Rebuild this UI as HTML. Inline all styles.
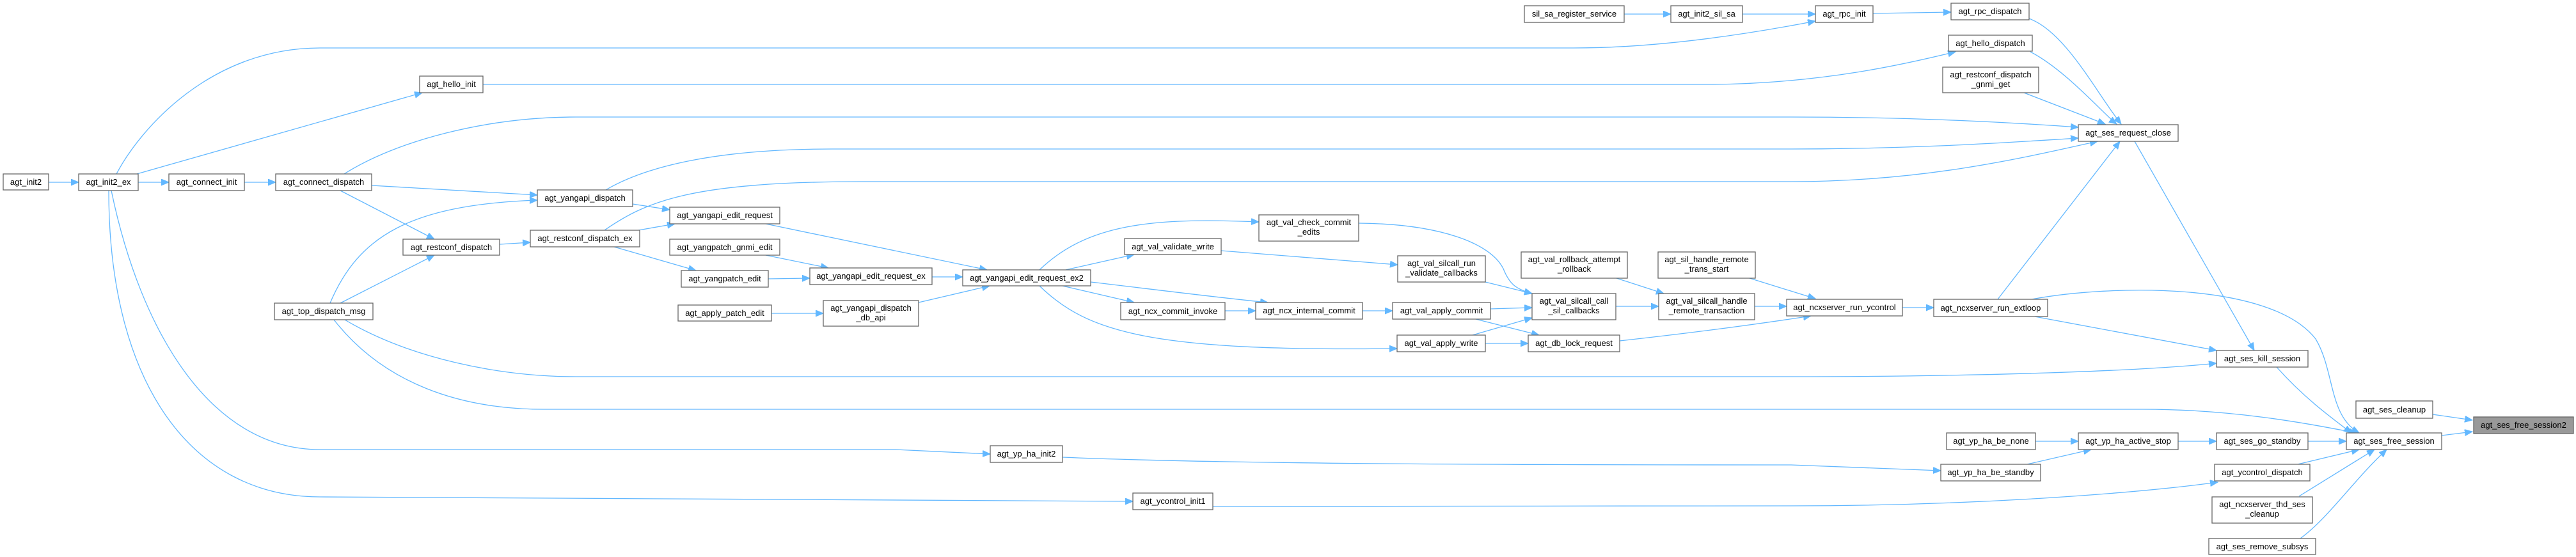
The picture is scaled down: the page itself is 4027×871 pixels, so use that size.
<!DOCTYPE html>
<html><head><meta charset="utf-8"><style>
html,body{margin:0;padding:0;background:#fff;}
svg{display:block;}
text{font-family:"Liberation Sans",Arial,sans-serif;font-size:13px;fill:#000;text-anchor:middle;}
.n{fill:#fff;stroke:#666;stroke-width:1.3;}
.h{fill:#999;stroke:#666;stroke-width:1.3;}
.e{fill:none;stroke:#63b8ff;stroke-width:1.3;}
</style></head><body>
<svg width="4027" height="871" viewBox="0 0 4027 871" xmlns="http://www.w3.org/2000/svg">
<defs><marker id="a" markerUnits="userSpaceOnUse" markerWidth="14" markerHeight="12" refX="12" refY="5" orient="auto"><path d="M0,0 L12,5 L0,10 Z" fill="#63b8ff" stroke="#63b8ff"/></marker></defs>
<g marker-end="url(#a)">
<path class="e" d="M76,285 L123,285"/>
<path class="e" d="M216,285 L264,285"/>
<path class="e" d="M382,285 L431,285"/>
<path class="e" d="M214,272 L660,145"/>
<path class="e" d="M182,272 C220,200 330,75 500,75 L2460,75 C2600,75 2750,50 2838,33"/>
<path class="e" d="M755,132 L2680,132 C2850,130 2980,100 3057,81"/>
<path class="e" d="M538,272 C620,220 760,183 900,183 L2800,183 C3000,183 3150,192 3249,199"/>
<path class="e" d="M947,297 C1010,260 1120,233 1300,233 L2800,233 C3000,233 3150,222 3249,216"/>
<path class="e" d="M945,360 C1010,315 1080,284 1350,284 L2800,284 C3000,284 3150,250 3279,221"/>
<path class="e" d="M581,290 L840,305"/>
<path class="e" d="M532,298 L679,374"/>
<path class="e" d="M516,474 C560,370 640,320 840,313"/>
<path class="e" d="M532,474 L679,399"/>
<path class="e" d="M781,382 L829,379"/>
<path class="e" d="M989,319 L1047,328"/>
<path class="e" d="M998,360 L1055,350"/>
<path class="e" d="M960,386 L1088,423"/>
<path class="e" d="M1201,436 L1266,435"/>
<path class="e" d="M1197,399 L1295,419"/>
<path class="e" d="M1206,490 L1287,490"/>
<path class="e" d="M1197,350 L1543,422"/>
<path class="e" d="M1457,433 L1505,433"/>
<path class="e" d="M1436,473 L1547,447"/>
<path class="e" d="M539,500 C640,560 780,589 900,589 L2800,589 C3100,589 3350,580 3465,568"/>
<path class="e" d="M522,500 C600,600 720,640 850,640 L3350,640 C3500,640 3620,665 3684,677"/>
<path class="e" d="M174,298 C220,520 330,703 500,703 L1400,703 L1548,710"/>
<path class="e" d="M170,298 C170,600 300,777 500,777 L1771,784"/>
<path class="e" d="M1661,715 C1900,725 2300,727 2800,727 L3034,736"/>
<path class="e" d="M1896,792 C2100,792 2500,791 2800,791 C3100,791 3350,770 3467,754"/>
<path class="e" d="M1625,422 C1700,350 1800,340 1968,347"/>
<path class="e" d="M1666,422 L1773,398"/>
<path class="e" d="M1661,447 L1773,473"/>
<path class="e" d="M1705,441 C1800,452 1900,465 1982,473"/>
<path class="e" d="M1625,447 C1700,520 1800,550 2184,545"/>
<path class="e" d="M1915,486 L1963,486"/>
<path class="e" d="M2130,486 L2177,486"/>
<path class="e" d="M2330,483 L2395,481"/>
<path class="e" d="M2307,499 L2406,524"/>
<path class="e" d="M2302,524 L2395,497"/>
<path class="e" d="M2322,537 L2389,537"/>
<path class="e" d="M1909,392 L2185,414"/>
<path class="e" d="M2322,441 L2395,459"/>
<path class="e" d="M2124,349 C2250,350 2330,380 2350,420 C2360,445 2370,452 2395,459"/>
<path class="e" d="M2526,479 L2593,479"/>
<path class="e" d="M2527,435 L2601,459"/>
<path class="e" d="M2735,435 L2838,467"/>
<path class="e" d="M2743,479 L2793,479"/>
<path class="e" d="M2532,533 C2650,520 2760,505 2831,494"/>
<path class="e" d="M2974,481 L3023,481"/>
<path class="e" d="M3123,468 L3314,221"/>
<path class="e" d="M3337,221 L3524,548"/>
<path class="e" d="M3181,495 L3465,548"/>
<path class="e" d="M3176,468 C3300,445 3550,440 3620,530 C3650,580 3640,650 3688,677"/>
<path class="e" d="M3559,574 C3600,620 3640,650 3676,677"/>
<path class="e" d="M3803,648 L3865,657"/>
<path class="e" d="M3817,681 L3865,675"/>
<path class="e" d="M3608,690 L3668,690"/>
<path class="e" d="M3405,690 L3465,690"/>
<path class="e" d="M3182,690 L3249,690"/>
<path class="e" d="M3169,726 L3269,703"/>
<path class="e" d="M3592,726 L3688,703"/>
<path class="e" d="M3594,776 L3712,703"/>
<path class="e" d="M3596,842 C3640,810 3680,750 3731,703"/>
<path class="e" d="M2928,21 L3050,19"/>
<path class="e" d="M3172,29 C3230,50 3280,150 3316,194"/>
<path class="e" d="M3174,81 C3230,110 3290,180 3309,194"/>
<path class="e" d="M3164,145 L3291,194"/>
<path class="e" d="M2539,22 L2612,22"/>
<path class="e" d="M2724,22 L2838,22"/>
</g>
<g>
<rect class="n" x="5" y="272" width="71" height="25"/><text x="40.5" y="289">agt_init2</text>
<rect class="n" x="123" y="272" width="93" height="26"/><text x="169.5" y="289">agt_init2_ex</text>
<rect class="n" x="264" y="272" width="118" height="26"/><text x="323" y="289">agt_connect_init</text>
<rect class="n" x="431" y="272" width="150" height="26"/><text x="506" y="289">agt_connect_dispatch</text>
<rect class="n" x="656" y="119" width="99" height="26"/><text x="705.5" y="136">agt_hello_init</text>
<rect class="n" x="840" y="297" width="149" height="26"/><text x="914.5" y="314">agt_yangapi_dispatch</text>
<rect class="n" x="1047" y="324" width="172" height="26"/><text x="1133" y="341">agt_yangapi_edit_request</text>
<rect class="n" x="829" y="360" width="171" height="26"/><text x="914.5" y="377">agt_restconf_dispatch_ex</text>
<rect class="n" x="630" y="374" width="151" height="25"/><text x="705.5" y="391">agt_restconf_dispatch</text>
<rect class="n" x="1047" y="374" width="172" height="25"/><text x="1133" y="391">agt_yangpatch_gnmi_edit</text>
<rect class="n" x="1065" y="423" width="136" height="26"/><text x="1133" y="440">agt_yangpatch_edit</text>
<rect class="n" x="1060" y="477" width="146" height="25"/><text x="1133" y="494">agt_apply_patch_edit</text>
<rect class="n" x="429" y="474" width="154" height="26"/><text x="506" y="491">agt_top_dispatch_msg</text>
<rect class="n" x="1266" y="419" width="191" height="26"/><text x="1361.5" y="436">agt_yangapi_edit_request_ex</text>
<rect class="n" x="1287" y="470" width="149" height="40"/><text x="1361.5" y="486">agt_yangapi_dispatch</text><text x="1361.5" y="501">_db_api</text>
<rect class="n" x="2383" y="9" width="156" height="26"/><text x="2461" y="26">sil_sa_register_service</text>
<rect class="n" x="2612" y="9" width="112" height="26"/><text x="2668" y="26">agt_init2_sil_sa</text>
<rect class="n" x="1505" y="422" width="200" height="25"/><text x="1605" y="439">agt_yangapi_edit_request_ex2</text>
<rect class="n" x="1968" y="336" width="156" height="41"/><text x="2046" y="352">agt_val_check_commit</text><text x="2046" y="367">_edits</text>
<rect class="n" x="1758" y="373" width="151" height="25"/><text x="1833.5" y="390">agt_val_validate_write</text>
<rect class="n" x="2185" y="400" width="137" height="41"/><text x="2253.5" y="416">agt_val_silcall_run</text><text x="2253.5" y="431">_validate_callbacks</text>
<rect class="n" x="2378" y="394" width="166" height="41"/><text x="2461" y="410">agt_val_rollback_attempt</text><text x="2461" y="425">_rollback</text>
<rect class="n" x="2592" y="394" width="152" height="41"/><text x="2668" y="410">agt_sil_handle_remote</text><text x="2668" y="425">_trans_start</text>
<rect class="n" x="2395" y="459" width="131" height="41"/><text x="2460.5" y="475">agt_val_silcall_call</text><text x="2460.5" y="490">_sil_callbacks</text>
<rect class="n" x="2593" y="459" width="150" height="41"/><text x="2668" y="475">agt_val_silcall_handle</text><text x="2668" y="490">_remote_transaction</text>
<rect class="n" x="1752" y="473" width="163" height="27"/><text x="1833.5" y="491">agt_ncx_commit_invoke</text>
<rect class="n" x="1963" y="473" width="167" height="26"/><text x="2046.5" y="490">agt_ncx_internal_commit</text>
<rect class="n" x="2177" y="473" width="153" height="26"/><text x="2253.5" y="490">agt_val_apply_commit</text>
<rect class="n" x="2184" y="524" width="138" height="26"/><text x="2253" y="541">agt_val_apply_write</text>
<rect class="n" x="2389" y="524" width="143" height="26"/><text x="2460.5" y="541">agt_db_lock_request</text>
<rect class="n" x="1548" y="697" width="113" height="26"/><text x="1604.5" y="714">agt_yp_ha_init2</text>
<rect class="n" x="1771" y="771" width="125" height="26"/><text x="1833.5" y="788">agt_ycontrol_init1</text>
<rect class="n" x="2838" y="9" width="90" height="26"/><text x="2883" y="26">agt_rpc_init</text>
<rect class="n" x="3050" y="5" width="122" height="26"/><text x="3111" y="22">agt_rpc_dispatch</text>
<rect class="n" x="3046" y="55" width="131" height="25"/><text x="3111.5" y="72">agt_hello_dispatch</text>
<rect class="n" x="3037" y="105" width="150" height="40"/><text x="3112" y="121">agt_restconf_dispatch</text><text x="3112" y="136">_gnmi_get</text>
<rect class="n" x="3249" y="195" width="156" height="26"/><text x="3327" y="212">agt_ses_request_close</text>
<rect class="n" x="2793" y="468" width="181" height="26"/><text x="2883.5" y="485">agt_ncxserver_run_ycontrol</text>
<rect class="n" x="3023" y="468" width="178" height="27"/><text x="3112" y="486">agt_ncxserver_run_extloop</text>
<rect class="n" x="3465" y="548" width="143" height="26"/><text x="3536.5" y="565">agt_ses_kill_session</text>
<rect class="n" x="3683" y="627" width="120" height="27"/><text x="3743" y="645">agt_ses_cleanup</text>
<rect class="h" x="3867" y="652" width="156" height="26"/><text x="3945" y="669">agt_ses_free_session2</text>
<rect class="n" x="3668" y="677" width="149" height="26"/><text x="3742.5" y="694">agt_ses_free_session</text>
<rect class="n" x="3465" y="677" width="143" height="26"/><text x="3536.5" y="694">agt_ses_go_standby</text>
<rect class="n" x="3249" y="677" width="156" height="26"/><text x="3327" y="694">agt_yp_ha_active_stop</text>
<rect class="n" x="3043" y="677" width="139" height="26"/><text x="3112.5" y="694">agt_yp_ha_be_none</text>
<rect class="n" x="3034" y="726" width="156" height="26"/><text x="3112" y="743">agt_yp_ha_be_standby</text>
<rect class="n" x="3462" y="726" width="149" height="26"/><text x="3536.5" y="743">agt_ycontrol_dispatch</text>
<rect class="n" x="3458" y="777" width="157" height="41"/><text x="3536.5" y="793">agt_ncxserver_thd_ses</text><text x="3536.5" y="808">_cleanup</text>
<rect class="n" x="3453" y="842" width="167" height="25"/><text x="3536.5" y="859">agt_ses_remove_subsys</text>
</g>
</svg>
</body></html>
